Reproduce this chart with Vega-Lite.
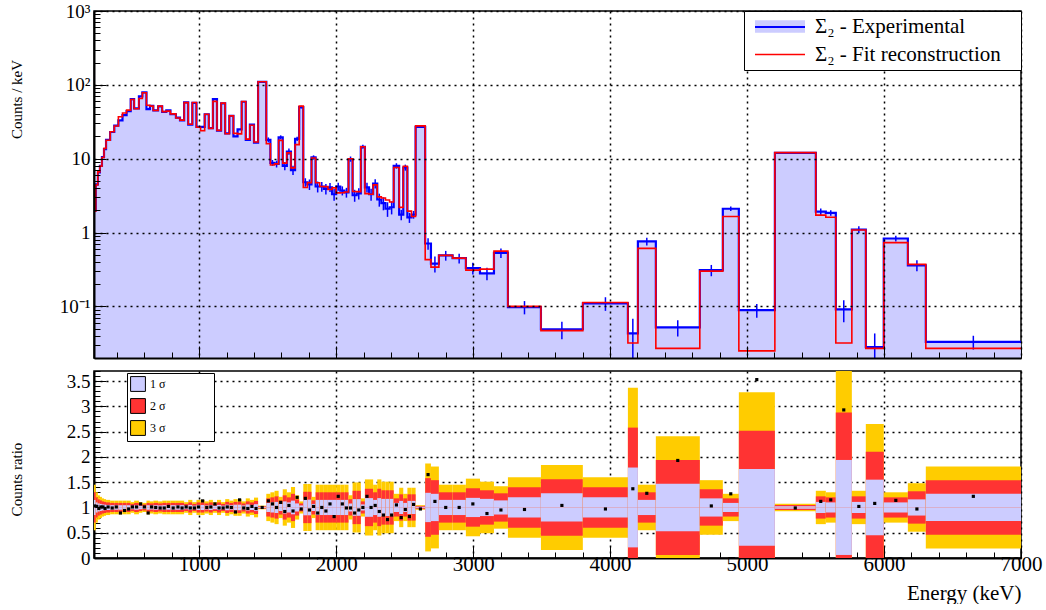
{
"$schema": "https://vega.github.io/schema/vega-lite/v6.json",
"background": "white",
"padding": {"left": 8, "top": 1, "right": 23, "bottom": 0},
"spacing": 9,
"config": {
  "font": "Liberation Serif",
  "view": {"stroke": "black", "strokeWidth": 1.5},
  "axis": {"labelFont": "Liberation Serif", "titleFont": "Liberation Serif", "labelFontSize": 20, "titleFontSize": 15, "titleFontWeight": "normal", "labelColor": "black", "titleColor": "black", "domainColor": "black", "domainWidth": 2, "tickColor": "black", "tickWidth": 1, "gridColor": "black", "gridDash": [2, 4], "gridWidth": 1.5},
  "legend": {"labelFont": "Liberation Serif", "titleFont": "Liberation Serif", "labelColor": "black"}
},
"datasets": {"h": [
{"a":230,"b":245,"c":237.5,"e":2.0,"f":1.94,"r":1.03,"s1":1.15,"s2":1.3,"s3":1.45},
{"a":245,"b":260,"c":252.5,"e":4.5,"f":4.41,"r":1.02,"s1":1.1,"s2":1.2,"s3":1.3},
{"a":260,"b":275,"c":267.5,"e":6.5,"f":6.63,"r":0.98,"s1":1.08,"s2":1.16,"s3":1.24},
{"a":275,"b":290,"c":282.5,"e":8.0,"f":7.92,"r":1.01,"s1":1.07,"s2":1.14,"s3":1.21},
{"a":290,"b":305,"c":297.5,"e":10.5,"f":10.4,"r":1.01,"s1":1.06,"s2":1.12,"s3":1.18},
{"a":305,"b":320,"c":312.5,"e":13.5,"f":13.8,"r":0.98,"s1":1.055,"s2":1.11,"s3":1.165},
{"a":320,"b":350,"c":335,"e":18,"f":17.8,"r":1.01,"s1":1.05,"s2":1.1,"s3":1.15},
{"a":350,"b":380,"c":365,"e":23,"f":23.2,"r":0.99,"s1":1.045,"s2":1.09,"s3":1.135},
{"a":380,"b":410,"c":395,"e":28,"f":27.7,"r":1.01,"s1":1.045,"s2":1.09,"s3":1.135},
{"a":410,"b":440,"c":425,"e":33,"f":37,"r":0.89,"s1":1.045,"s2":1.09,"s3":1.135},
{"a":440,"b":470,"c":455,"e":39,"f":41.5,"r":0.94,"s1":1.045,"s2":1.09,"s3":1.135},
{"a":470,"b":500,"c":485,"e":44,"f":45.4,"r":0.97,"s1":1.045,"s2":1.09,"s3":1.135},
{"a":500,"b":525,"c":512.5,"e":64,"f":63.4,"r":1.01,"s1":1.035,"s2":1.07,"s3":1.105},
{"a":525,"b":560,"c":542.5,"e":48,"f":47.5,"r":1.01,"s1":1.045,"s2":1.09,"s3":1.135},
{"a":560,"b":585,"c":572.5,"e":70,"f":65.4,"r":1.07,"s1":1.035,"s2":1.07,"s3":1.105},
{"a":585,"b":615,"c":600,"e":79,"f":78.2,"r":1.01,"s1":1.03,"s2":1.06,"s3":1.09},
{"a":615,"b":640,"c":627.5,"e":47,"f":53,"r":0.89,"s1":1.045,"s2":1.09,"s3":1.135},
{"a":640,"b":665,"c":652.5,"e":52,"f":51.5,"r":1.01,"s1":1.04,"s2":1.08,"s3":1.12},
{"a":665,"b":700,"c":682.5,"e":45,"f":45,"r":1.0,"s1":1.045,"s2":1.09,"s3":1.135},
{"a":700,"b":730,"c":715,"e":51,"f":51.5,"r":0.99,"s1":1.04,"s2":1.08,"s3":1.12},
{"a":730,"b":760,"c":745,"e":43,"f":43.4,"r":0.99,"s1":1.045,"s2":1.09,"s3":1.135},
{"a":760,"b":790,"c":775,"e":45,"f":44.1,"r":1.02,"s1":1.045,"s2":1.09,"s3":1.135},
{"a":790,"b":830,"c":810,"e":40,"f":40.4,"r":0.99,"s1":1.045,"s2":1.09,"s3":1.135},
{"a":830,"b":860,"c":845,"e":36,"f":35.6,"r":1.01,"s1":1.045,"s2":1.09,"s3":1.135},
{"a":860,"b":890,"c":875,"e":33,"f":33.3,"r":0.99,"s1":1.045,"s2":1.09,"s3":1.135},
{"a":890,"b":920,"c":905,"e":58,"f":57.4,"r":1.01,"s1":1.035,"s2":1.07,"s3":1.105},
{"a":920,"b":950,"c":935,"e":29,"f":29.3,"r":0.99,"s1":1.05,"s2":1.1,"s3":1.15},
{"a":950,"b":980,"c":965,"e":57,"f":57.6,"r":0.99,"s1":1.035,"s2":1.07,"s3":1.105},
{"a":980,"b":1010,"c":995,"e":27,"f":26.7,"r":1.01,"s1":1.05,"s2":1.1,"s3":1.15},
{"a":1010,"b":1040,"c":1025,"e":27,"f":23.9,"r":1.13,"s1":1.05,"s2":1.1,"s3":1.15},
{"a":1040,"b":1070,"c":1055,"e":40,"f":40,"r":1.0,"s1":1.04,"s2":1.08,"s3":1.12},
{"a":1070,"b":1100,"c":1085,"e":26,"f":25.7,"r":1.01,"s1":1.05,"s2":1.1,"s3":1.15},
{"a":1100,"b":1130,"c":1115,"e":64,"f":59.8,"r":1.07,"s1":1.035,"s2":1.07,"s3":1.105},
{"a":1130,"b":1160,"c":1145,"e":24,"f":24.2,"r":0.99,"s1":1.05,"s2":1.1,"s3":1.15},
{"a":1160,"b":1190,"c":1175,"e":56,"f":56.6,"r":0.99,"s1":1.035,"s2":1.07,"s3":1.105},
{"a":1190,"b":1220,"c":1205,"e":22,"f":21.8,"r":1.01,"s1":1.055,"s2":1.11,"s3":1.165},
{"a":1220,"b":1250,"c":1235,"e":38,"f":38,"r":1.0,"s1":1.045,"s2":1.09,"s3":1.135},
{"a":1250,"b":1280,"c":1265,"e":20,"f":22,"r":0.91,"s1":1.055,"s2":1.11,"s3":1.165},
{"a":1280,"b":1310,"c":1295,"e":25,"f":21.7,"r":1.15,"s1":1.055,"s2":1.11,"s3":1.165},
{"a":1310,"b":1340,"c":1325,"e":59,"f":59.6,"r":0.99,"s1":1.04,"s2":1.08,"s3":1.12},
{"a":1340,"b":1370,"c":1355,"e":18,"f":18.4,"r":0.98,"s1":1.06,"s2":1.12,"s3":1.18},
{"a":1370,"b":1400,"c":1385,"e":29,"f":28.4,"r":1.02,"s1":1.05,"s2":1.1,"s3":1.15},
{"a":1400,"b":1430,"c":1415,"e":16.5,"f":16.8,"r":0.98,"s1":1.065,"s2":1.13,"s3":1.195},
{"a":1430,"b":1490,"c":1460,"e":110,"f":110,"r":1.0,"s1":1.012,"s2":1.024,"s3":1.036},
{"a":1490,"b":1520,"c":1505,"e":18,"f":15.9,"lo":16.6,"hi":19.4,"r":1.13,"s1":1.09,"s2":1.18,"s3":1.27},
{"a":1520,"b":1550,"c":1535,"e":8.8,"f":8.2,"lo":8.0,"hi":9.6,"r":1.07,"s1":1.1,"s2":1.2,"s3":1.3},
{"a":1550,"b":1580,"c":1565,"e":8.5,"f":8.5,"lo":7.6,"hi":9.4,"r":1.0,"s1":1.11,"s2":1.22,"s3":1.33},
{"a":1580,"b":1610,"c":1595,"e":19.5,"f":17.7,"lo":18.3,"hi":20.7,"r":1.1,"s1":1.07,"s2":1.14,"s3":1.21},
{"a":1610,"b":1640,"c":1625,"e":8.0,"f":8.7,"lo":7.0,"hi":9.0,"r":0.92,"s1":1.12,"s2":1.24,"s3":1.36},
{"a":1640,"b":1670,"c":1655,"e":12.5,"f":12.0,"lo":11.3,"hi":13.7,"r":1.04,"s1":1.1,"s2":1.2,"s3":1.3},
{"a":1670,"b":1700,"c":1685,"e":7.0,"f":7.5,"lo":6.0,"hi":8.0,"r":0.93,"s1":1.135,"s2":1.27,"s3":1.405},
{"a":1700,"b":1730,"c":1715,"e":18.6,"f":15.5,"lo":17.4,"hi":19.8,"r":1.2,"s1":1.08,"s2":1.16,"s3":1.24},
{"a":1730,"b":1760,"c":1745,"e":50,"f":51.5,"lo":47.9,"hi":52.1,"r":0.97,"s1":1.04,"s2":1.08,"s3":1.12},
{"a":1760,"b":1790,"c":1775,"e":4.8,"f":4.07,"lo":4.17,"hi":5.43,"r":1.18,"s1":1.155,"s2":1.31,"s3":1.465},
{"a":1790,"b":1820,"c":1805,"e":4.5,"f":4.74,"lo":3.77,"hi":5.23,"r":0.95,"s1":1.155,"s2":1.31,"s3":1.465},
{"a":1820,"b":1850,"c":1835,"e":10.4,"f":10.2,"lo":9.7,"hi":11.1,"r":1.02,"s1":1.07,"s2":1.14,"s3":1.21},
{"a":1850,"b":1880,"c":1865,"e":4.2,"f":4.72,"lo":3.49,"hi":4.91,"r":0.89,"s1":1.15,"s2":1.3,"s3":1.45},
{"a":1880,"b":1910,"c":1895,"e":4.2,"f":4.2,"lo":3.57,"hi":4.83,"r":1.0,"s1":1.15,"s2":1.3,"s3":1.45},
{"a":1910,"b":1940,"c":1925,"e":3.9,"f":4.19,"lo":3.27,"hi":4.53,"r":0.93,"s1":1.15,"s2":1.3,"s3":1.45},
{"a":1940,"b":1970,"c":1955,"e":4.1,"f":3.83,"lo":3.53,"hi":4.67,"r":1.07,"s1":1.15,"s2":1.3,"s3":1.45},
{"a":1970,"b":2000,"c":1985,"e":3.3,"f":4.02,"lo":2.7,"hi":3.9,"r":0.82,"s1":1.15,"s2":1.3,"s3":1.45},
{"a":2000,"b":2030,"c":2015,"e":4.2,"f":3.44,"lo":3.68,"hi":4.72,"r":1.22,"s1":1.15,"s2":1.3,"s3":1.45},
{"a":2030,"b":2060,"c":2045,"e":3.7,"f":3.46,"lo":3.18,"hi":4.22,"r":1.07,"s1":1.15,"s2":1.3,"s3":1.45},
{"a":2060,"b":2090,"c":2075,"e":3.5,"f":3.54,"lo":2.97,"hi":4.03,"r":0.99,"s1":1.15,"s2":1.3,"s3":1.45},
{"a":2090,"b":2120,"c":2105,"e":9.9,"f":10.0,"lo":9.1,"hi":10.7,"r":0.99,"s1":1.08,"s2":1.16,"s3":1.24},
{"a":2120,"b":2150,"c":2135,"e":3.2,"f":3.6,"lo":2.61,"hi":3.79,"r":0.89,"s1":1.165,"s2":1.33,"s3":1.495},
{"a":2150,"b":2180,"c":2165,"e":3.4,"f":3.58,"lo":2.81,"hi":3.99,"r":0.95,"s1":1.165,"s2":1.33,"s3":1.495},
{"a":2180,"b":2210,"c":2195,"e":14.5,"f":14.5,"lo":13.6,"hi":15.4,"r":1.0,"s1":1.06,"s2":1.12,"s3":1.18},
{"a":2210,"b":2240,"c":2225,"e":4.1,"f":3.36,"lo":3.48,"hi":4.72,"r":1.22,"s1":1.185,"s2":1.37,"s3":1.555},
{"a":2240,"b":2270,"c":2255,"e":3.3,"f":3.3,"lo":2.69,"hi":3.91,"r":1.0,"s1":1.185,"s2":1.37,"s3":1.555},
{"a":2270,"b":2300,"c":2285,"e":4.6,"f":4.42,"lo":3.94,"hi":5.26,"r":1.04,"s1":1.15,"s2":1.3,"s3":1.45},
{"a":2300,"b":2330,"c":2315,"e":2.8,"f":3.04,"lo":2.24,"hi":3.36,"r":0.92,"s1":1.185,"s2":1.37,"s3":1.555},
{"a":2330,"b":2360,"c":2345,"e":2.5,"f":2.94,"lo":2.0,"hi":3.0,"r":0.85,"s1":1.17,"s2":1.34,"s3":1.51},
{"a":2360,"b":2390,"c":2375,"e":2.1,"f":2.76,"lo":1.63,"hi":2.57,"r":0.76,"s1":1.17,"s2":1.34,"s3":1.51},
{"a":2390,"b":2420,"c":2405,"e":2.2,"f":2.59,"lo":1.76,"hi":2.64,"r":0.85,"s1":1.17,"s2":1.34,"s3":1.51},
{"a":2420,"b":2460,"c":2440,"e":8.0,"f":7.6,"lo":7.32,"hi":8.68,"r":1.05,"s1":1.09,"s2":1.18,"s3":1.27},
{"a":2460,"b":2490,"c":2475,"e":1.75,"f":2.19,"lo":1.47,"hi":2.03,"r":0.8,"s1":1.13,"s2":1.26,"s3":1.39},
{"a":2490,"b":2520,"c":2505,"e":7.6,"f":7.9,"lo":6.89,"hi":8.31,"r":0.96,"s1":1.09,"s2":1.18,"s3":1.27},
{"a":2520,"b":2550,"c":2535,"e":1.6,"f":1.95,"lo":1.35,"hi":1.85,"r":0.82,"s1":1.13,"s2":1.26,"s3":1.39},
{"a":2550,"b":2580,"c":2565,"e":1.75,"f":1.65,"lo":1.54,"hi":1.96,"r":1.06,"s1":1.13,"s2":1.26,"s3":1.39},
{"a":2580,"b":2650,"c":2615,"e":27,"f":27.8,"lo":26.6,"hi":27.4,"r":0.97,"s1":1.015,"s2":1.03,"s3":1.045},
{"a":2650,"b":2692,"c":2671,"e":0.71,"f":0.43,"lo":0.585,"hi":0.835,"r":1.65,"s1":1.29,"s2":1.58,"s3":1.87},
{"a":2692,"b":2750,"c":2721,"e":0.38,"f":0.34,"lo":0.288,"hi":0.472,"r":1.12,"s1":1.27,"s2":1.54,"s3":1.81},
{"a":2750,"b":2850,"c":2800,"e":0.49,"f":0.49,"lo":0.416,"hi":0.564,"r":1.0,"s1":1.15,"s2":1.3,"s3":1.45},
{"a":2850,"b":2947,"c":2898,"e":0.45,"f":0.45,"lo":0.382,"hi":0.518,"r":1.0,"s1":1.15,"s2":1.3,"s3":1.45},
{"a":2947,"b":3050,"c":2998,"e":0.33,"f":0.31,"lo":0.271,"hi":0.389,"r":1.07,"s1":1.19,"s2":1.38,"s3":1.57},
{"a":3050,"b":3152,"c":3101,"e":0.28,"f":0.32,"lo":0.226,"hi":0.334,"r":0.88,"s1":1.17,"s2":1.34,"s3":1.51},
{"a":3152,"b":3254,"c":3203,"e":0.53,"f":0.56,"lo":0.452,"hi":0.608,"r":0.95,"s1":1.14,"s2":1.28,"s3":1.42},
{"a":3254,"b":3495,"c":3375,"e":0.098,"f":0.1,"lo":0.078,"hi":0.118,"r":0.96,"s1":1.2,"s2":1.4,"s3":1.6},
{"a":3495,"b":3801,"c":3648,"e":0.049,"f":0.047,"lo":0.036,"hi":0.062,"r":1.04,"s1":1.28,"s2":1.56,"s3":1.84},
{"a":3801,"b":4130,"c":3966,"e":0.11,"f":0.113,"lo":0.087,"hi":0.133,"r":0.97,"s1":1.2,"s2":1.4,"s3":1.6},
{"a":4130,"b":4203,"c":4166,"e":0.043,"f":0.032,"lo":0.018,"hi":0.068,"r":1.37,"s1":1.79,"s2":2.58,"s3":3.37},
{"a":4203,"b":4334,"c":4268,"e":0.76,"f":0.61,"lo":0.668,"hi":0.852,"r":1.28,"s1":1.15,"s2":1.3,"s3":1.45},
{"a":4334,"b":4655,"c":4494,"e":0.052,"f":0.027,"lo":0.039,"hi":0.065,"r":1.93,"s1":1.47,"s2":1.94,"s3":2.41},
{"a":4655,"b":4823,"c":4739,"e":0.31,"f":0.3,"lo":0.256,"hi":0.364,"r":1.03,"s1":1.18,"s2":1.36,"s3":1.54},
{"a":4823,"b":4940,"c":4881,"e":2.1,"f":1.65,"lo":1.95,"hi":2.25,"r":1.27,"s1":1.09,"s2":1.18,"s3":1.27},
{"a":4940,"b":5203,"c":5071,"e":0.089,"f":0.025,"lo":0.07,"hi":0.108,"r":3.53,"s1":1.76,"s2":2.52,"s3":3.28},
{"a":5203,"b":5502,"c":5352,"e":12,"f":12.1,"lo":11.7,"hi":12.3,"r":0.99,"s1":1.025,"s2":1.05,"s3":1.075},
{"a":5502,"b":5575,"c":5538,"e":1.92,"f":1.72,"lo":1.73,"hi":2.11,"r":1.12,"s1":1.11,"s2":1.22,"s3":1.33},
{"a":5575,"b":5648,"c":5611,"e":1.85,"f":1.61,"lo":1.69,"hi":2.01,"r":1.15,"s1":1.1,"s2":1.2,"s3":1.3},
{"a":5648,"b":5765,"c":5706,"e":0.091,"f":0.032,"lo":0.061,"hi":0.121,"r":2.93,"s1":1.94,"s2":2.88,"s3":3.82},
{"a":5765,"b":5867,"c":5816,"e":1.1,"f":1.08,"lo":0.98,"hi":1.22,"r":1.02,"s1":1.11,"s2":1.22,"s3":1.33},
{"a":5867,"b":5998,"c":5932,"e":0.028,"f":0.027,"lo":0.013,"hi":0.043,"r":1.08,"s1":1.55,"s2":2.1,"s3":2.65},
{"a":5998,"b":6174,"c":6086,"e":0.83,"f":0.73,"lo":0.757,"hi":0.903,"r":1.14,"s1":1.1,"s2":1.2,"s3":1.3},
{"a":6174,"b":6305,"c":6240,"e":0.36,"f":0.37,"lo":0.3,"hi":0.42,"r":0.97,"s1":1.16,"s2":1.32,"s3":1.48},
{"a":6305,"b":7000,"c":6652,"e":0.033,"f":0.027,"lo":0.026,"hi":0.04,"r":1.22,"s1":1.27,"s2":1.54,"s3":1.81}
]},
"vconcat": [
{
  "width": 927, "height": 347,
  "data": {"name": "h"},
  "layer": [
    {
      "transform": [{"fold": ["a", "b"], "as": ["edge", "x"]}],
      "mark": {"type": "area", "fill": "#ccccff", "clip": true},
      "encoding": {
        "x": {"field": "x", "type": "quantitative", "scale": {"domain": [232, 7000], "nice": false, "zero": false},
          "axis": {"title": null, "labels": false, "zindex": 1, "tickCount": 100,
            "values": [400,600,800,1000,1200,1400,1600,1800,2000,2200,2400,2600,2800,3000,3200,3400,3600,3800,4000,4200,4400,4600,4800,5000,5200,5400,5600,5800,6000,6200,6400,6600,6800,7000],
            "tickSize": {"condition": {"test": "datum.value % 1000 === 0", "value": -12}, "value": -6},
            "grid": true,
            "gridOpacity": {"condition": {"test": "datum.value % 1000 === 0", "value": 1}, "value": 0}}},
        "y": {"field": "e", "type": "quantitative", "scale": {"type": "log", "domain": [0.02, 1000], "nice": false},
          "axis": {"title": "Counts / keV", "zindex": 1, "tickCount": 100, "titleX": -78, "titleY": 88, "titleAngle": -90, "titleAlign": "center", "titleBaseline": "middle", "labelFontSize": 19,
            "values": [0.02,0.03,0.04,0.05,0.06,0.07,0.08,0.09,0.1,0.2,0.3,0.4,0.5,0.6,0.7,0.8,0.9,1,2,3,4,5,6,7,8,9,10,20,30,40,50,60,70,80,90,100,200,300,400,500,600,700,800,900,1000],
            "labelExpr": "datum.value === 1000 ? '10³' : datum.value === 100 ? '10²' : datum.value === 10 ? '10' : datum.value === 1 ? '1' : datum.value === 0.1 ? '10⁻¹' : ''",
            "tickSize": {"condition": {"test": "indexof([0.1,1,10,100,1000], datum.value) >= 0", "value": -12}, "value": -6},
            "labelPadding": 16,
            "grid": true,
            "gridOpacity": {"condition": {"test": "indexof([0.1,1,10,100,1000], datum.value) >= 0", "value": 1}, "value": 0}}},
        "y2": {"datum": 0.02},
        "order": {"value": null}
      }
    },
    {
      "transform": [{"fold": ["a", "b"], "as": ["edge", "x"]}],
      "mark": {"type": "line", "strokeWidth": 2.2, "clip": true},
      "encoding": {
        "x": {"field": "x", "type": "quantitative"},
        "y": {"field": "e", "type": "quantitative"},
        "order": {"value": null},
        "stroke": {"datum": "Σ₂ - Experimental", "type": "nominal",
          "scale": {"domain": ["Σ₂ - Experimental", "Σ₂ - Fit reconstruction"], "range": ["#0000ff", "#ff0000"]},
          "legend": {"title": null, "orient": "top-right", "offset": 0, "fillColor": "white", "strokeColor": "black", "padding": 5, "labelFontSize": 21, "labelLimit": 400, "symbolSize": 400, "symbolStrokeWidth": 1.5, "rowPadding": 6, "symbolOffset": 20.5, "labelOffset": 24.5,
            "labelExpr": "datum.label + '\u2800'",
            "encode": {"symbols": {"update": {
              "shape": {"signal": "datum.value === 'Σ₂ - Experimental' ? 'M-2.5,-0.625H2.5V0.625H-2.5Z' : 'M-2.5,0H2.5'"},
              "fill": {"signal": "datum.value === 'Σ₂ - Experimental' ? {gradient: 'linear', x1: 0, y1: 0, x2: 0, y2: 1, stops: [{offset: 0, color: '#ccccff'}, {offset: 0.42, color: '#ccccff'}, {offset: 0.42, color: '#0000ff'}, {offset: 0.58, color: '#0000ff'}, {offset: 0.58, color: '#ccccff'}, {offset: 1, color: '#ccccff'}]} : 'transparent'"},
              "stroke": {"signal": "datum.value === 'Σ₂ - Experimental' ? 'transparent' : '#ff0000'"},
              "strokeWidth": {"signal": "datum.value === 'Σ₂ - Experimental' ? 0 : 1.5"},
              "strokeOpacity": {"signal": "datum.value === 'Σ₂ - Experimental' ? 0 : 1"}
            }}}}
        }
      }
    },
    {
      "mark": {"type": "rule", "color": "#0000ff", "strokeWidth": 1.5, "clip": true},
      "encoding": {
        "x": {"field": "c", "type": "quantitative"},
        "y": {"field": "lo", "type": "quantitative"},
        "y2": {"field": "hi"}
      }
    },
    {
      "transform": [{"fold": ["a", "b"], "as": ["edge", "x"]}],
      "mark": {"type": "line", "strokeWidth": 1.6, "clip": true},
      "encoding": {
        "x": {"field": "x", "type": "quantitative"},
        "y": {"field": "f", "type": "quantitative"},
        "order": {"value": null},
        "stroke": {"datum": "Σ₂ - Fit reconstruction", "type": "nominal"}
      }
    }
  ]
},
{
  "width": 927, "height": 187,
  "data": {"name": "h"},
  "resolve": {"scale": {"y": "independent"}},
  "layer": [
    {
      "transform": [{"fold": ["s3", "s2", "s1"], "as": ["lvl", "h"]}],
      "mark": {"type": "rect", "clip": true},
      "encoding": {
        "x": {"field": "a", "type": "quantitative", "scale": {"domain": [232, 7000], "nice": false, "zero": false},
          "axis": {"title": "Energy (keV)", "format": "d", "zindex": 0, "tickCount": 100, "labelFontSize": 21, "titleFontSize": 21,
            "titleX": 927, "titleY": 35, "titleAlign": "right", "titleBaseline": "middle",
            "values": [400,600,800,1000,1200,1400,1600,1800,2000,2200,2400,2600,2800,3000,3200,3400,3600,3800,4000,4200,4400,4600,4800,5000,5200,5400,5600,5800,6000,6200,6400,6600,6800,7000],
            "labelExpr": "datum.value % 1000 === 0 ? datum.label : ''",
            "labelOverlap": false, "labelFlush": false,
            "tickSize": {"condition": {"test": "datum.value % 1000 === 0", "value": -12}, "value": -6},
            "labelPadding": 7,
            "grid": true,
            "gridOpacity": {"condition": {"test": "datum.value % 1000 === 0", "value": 1}, "value": 0}}},
        "x2": {"field": "b"},
        "y": {"field": "h", "type": "quantitative", "scale": {"domain": [0, 3.7], "nice": false, "zero": false},
          "axis": {"title": "Counts ratio", "zindex": 0, "tickCount": 100, "format": "~g", "titleX": -78, "titleY": 108, "titleAngle": -90, "titleAlign": "center", "titleBaseline": "middle", "labelFontSize": 19,
            "values": [0,0.1,0.2,0.3,0.4,0.5,0.6,0.7,0.8,0.9,1,1.1,1.2,1.3,1.4,1.5,1.6,1.7,1.8,1.9,2,2.1,2.2,2.3,2.4,2.5,2.6,2.7,2.8,2.9,3,3.1,3.2,3.3,3.4,3.5,3.6,3.7],
            "labelExpr": "indexof([0,0.5,1,1.5,2,2.5,3,3.5], datum.value) >= 0 ? datum.label : ''",
            "tickSize": {"condition": {"test": "indexof([0,0.5,1,1.5,2,2.5,3,3.5], datum.value) >= 0", "value": -12}, "value": -6},
            "labelPadding": 16,
            "grid": true,
            "gridOpacity": {"condition": {"test": "indexof([0.5,1,1.5,2,2.5,3,3.5], datum.value) >= 0", "value": 1}, "value": 0}}},
        "y2": {"datum": 0.995},
        "color": {"field": "lvl", "type": "nominal",
          "scale": {"domain": ["s1", "s2", "s3"], "range": ["#ccccff", "#ff3333", "#ffcc00"]},
          "legend": {"title": null, "orient": "none", "legendX": 33, "legendY": 362, "fillColor": "white", "strokeColor": "black", "padding": 3, "symbolType": "square", "symbolSize": 220, "symbolStrokeColor": "black", "symbolStrokeWidth": 1, "labelFontSize": 12, "rowPadding": 2, "labelOffset": 4,
            "labelExpr": "datum.label === 's1' ? '1 σ\u2800\u2800\u2800\u2800\u2800' : datum.label === 's2' ? '2 σ' : '3 σ'",
            "encode": {"symbols": {"update": {"stroke": {"value": "black"}, "strokeWidth": {"value": 1}}}}}
        }
      }
    },
    {
      "transform": [{"fold": ["s3", "s2", "s1"], "as": ["lvl", "h"]}],
      "mark": {"type": "rect", "clip": true},
      "encoding": {
        "x": {"field": "a", "type": "quantitative"},
        "x2": {"field": "b"},
        "y": {"field": "h", "type": "quantitative", "scale": {"domain": [-1.7, 2], "reverse": true, "nice": false, "zero": false}, "axis": null},
        "y2": {"datum": 0.995},
        "color": {"field": "lvl", "type": "nominal"}
      }
    },
    {
      "mark": {"type": "point", "shape": "square", "filled": true, "color": "black", "size": 10, "opacity": 1, "clip": true},
      "encoding": {
        "x": {"field": "c", "type": "quantitative"},
        "y": {"field": "r", "type": "quantitative", "scale": {"domain": [0, 3.7], "nice": false, "zero": false}, "axis": null}
      }
    }
  ]
}
]
}
